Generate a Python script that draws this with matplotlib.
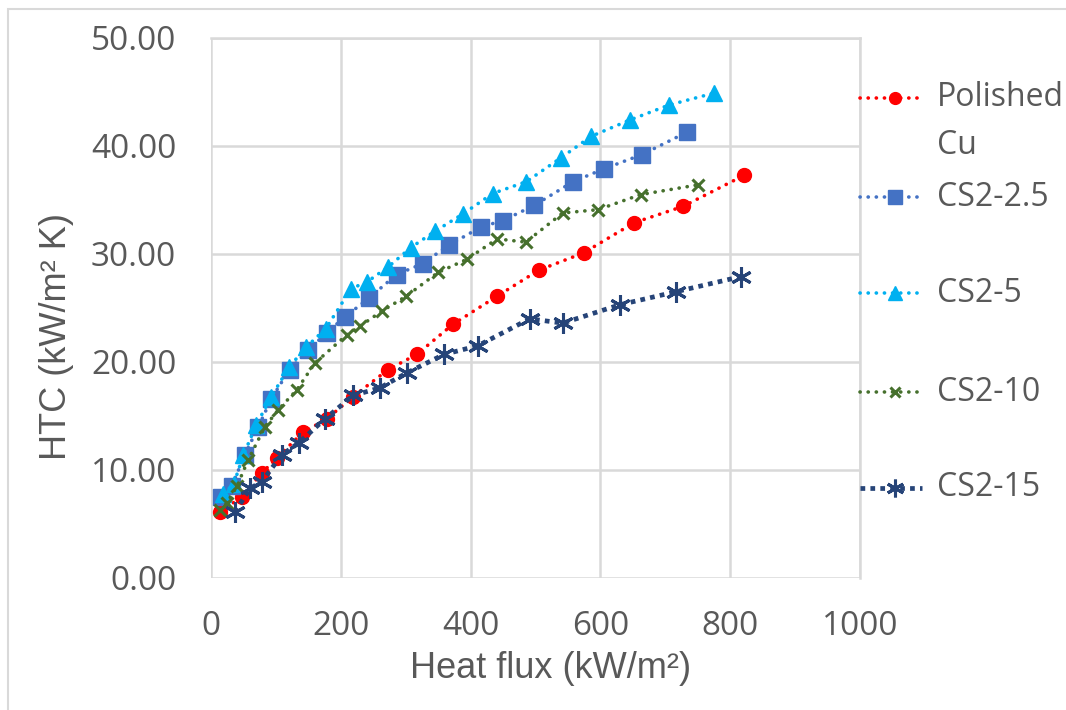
import matplotlib
matplotlib.use('Agg')
import matplotlib.pyplot as plt
from matplotlib.lines import Line2D
from matplotlib.patches import Rectangle

# data
cu_x = [14, 47, 78, 101, 142, 178, 219, 273, 317, 373, 441, 505, 574, 652, 727, 822]
cu_y = [6.1, 7.5, 9.7, 11.1, 13.5, 14.7, 16.8, 19.3, 20.7, 23.5, 26.1, 28.5, 30.1, 32.9, 34.4, 37.3]

cs25_x = [16, 32, 52, 73, 93, 121, 150, 178, 207, 243, 286, 326, 366, 416, 450, 498, 558, 606, 664, 734]
cs25_y = [7.5, 8.5, 11.4, 14.0, 16.6, 19.3, 21.1, 22.7, 24.2, 25.9, 28.1, 29.1, 30.8, 32.5, 33.1, 34.5,
          36.7, 37.9, 39.2, 41.3]

cs5_x = [19, 35, 50, 70, 93, 120, 147, 177, 216, 240, 273, 308, 345, 388, 434, 486, 539, 586, 645, 706, 775]
cs5_y = [7.8, 8.7, 11.4, 14.2, 16.8, 19.5, 21.4, 23.1, 26.8, 27.4, 28.8, 30.6, 32.1, 33.7, 35.6, 36.7,
         38.9, 40.9, 42.4, 43.8, 44.9]

cs10_x = [14, 24, 40, 57, 83, 104, 132, 160, 209, 229, 263, 301, 350, 394, 441, 485, 542, 596, 662, 750]
cs10_y = [6.3, 6.9, 8.5, 10.9, 14.0, 15.6, 17.4, 19.9, 22.5, 23.3, 24.7, 26.1, 28.3, 29.5, 31.4, 31.1,
          33.8, 34.1, 35.5, 36.4]

cs15_x = [37, 60, 78, 109, 135, 175, 219, 260, 302, 359, 411, 491, 542, 630, 716, 816]
cs15_y = [6.1, 8.3, 8.9, 11.4, 12.5, 14.7, 16.9, 17.6, 19.0, 20.7, 21.5, 24.0, 23.6, 25.3, 26.5, 27.9]

x_ticks = [0, 200, 400, 600, 800, 1000]
y_ticks = [0, 10, 20, 30, 40, 50]

text_color = '#595959'
grid_color = '#D9D9D9'
tick_font = 'Open Sans'
label_font = 'Liberation Sans'

W, H = 1066, 710
fig = plt.figure(figsize=(W / 100, H / 100), dpi=100)


def px(x, y):
    # pixel position -> figure fraction
    return x / W, 1 - y / H


# outer chart border (runs off the right/bottom edge in the reference)
fig.add_artist(Rectangle(px(8, 760), 1100 / W, 751 / H, transform=fig.transFigure,
                         fill=False, edgecolor=grid_color, linewidth=1.5))

ax = fig.add_axes([211 / W, 1 - 578 / H, (860 - 211) / W, (578 - 38) / H])

series = [
    # label, x, y, color, marker, size, line style
    ('Polished\nCu', cu_x, cu_y, '#FF0000', 'o', 10, 'round'),
    ('CS2-2.5', cs25_x, cs25_y, '#4472C4', 's', 12, 'round'),
    ('CS2-5', cs5_x, cs5_y, '#00B0F0', '^', 12, 'round'),
    ('CS2-10', cs10_x, cs10_y, '#46702D', 'x', 8, 'round'),
    ('CS2-15', cs15_x, cs15_y, '#264478', (6, 2, 0), 15, 'square'),
]

styles = {}
for label, xs, ys, color, marker, ms, kind in series:
    if kind == 'round':
        kw = dict(linestyle=(0, (0.05, 2.2)), linewidth=2.6, dash_capstyle='round')
    else:
        kw = dict(linestyle=(0, (1, 1.1)), linewidth=3.4, dash_capstyle='butt')
    mew = 2.2 if marker in ('x', (6, 2, 0)) else 1
    kw.update(color=color, marker=marker, markersize=ms, markerfacecolor=color,
              markeredgecolor=color, markeredgewidth=mew)
    styles[label] = kw
    ax.plot(xs, ys, zorder=3, **kw)

ax.set_xlim(0, 1000)
ax.set_ylim(0, 50)
ax.set_xticks(x_ticks)
ax.set_yticks(y_ticks)
ax.set_yticklabels([f'{v:.2f}' for v in y_ticks])
ax.tick_params(length=0, labelsize=24, labelcolor=text_color)
ax.tick_params(axis='x', pad=23)
ax.tick_params(axis='y', pad=25)
for t in ax.get_xticklabels() + ax.get_yticklabels():
    t.set_fontfamily(tick_font)
ax.grid(True, color=grid_color, linewidth=1.8, zorder=0)
ax.set_axisbelow(True)
for s in ax.spines.values():
    s.set_visible(False)
# top and right grid lines at 50 / 1000
ax.axhline(50, color=grid_color, linewidth=1.8, zorder=0, clip_on=False)
ax.axvline(1000, color=grid_color, linewidth=1.8, zorder=0, clip_on=False)

# axis titles
fig.text(*px(551, 669), 'Heat flux (kW/m\u00b2)', fontsize=26, color=text_color, family=label_font,
         ha='center', va='center')
fig.text(*px(56, 337), 'HTC (kW/m\u00b2 K)', fontsize=26, color=text_color, family=label_font,
         ha='center', va='center', rotation=90)

# legend drawn by hand so the handle sits on the first line of "Polished Cu"
legend_rows = [98, 197, 293, 392, 488]
for (label, *_), yy in zip(series, legend_rows):
    kw = dict(styles[label])
    line_kw = {k: v for k, v in kw.items() if not k.startswith('marker')}
    x0, y0 = px(860, yy)
    x1, _ = px(922, yy)
    xm, _ = px(895, yy)
    fig.add_artist(Line2D([x0, x1], [y0, y0], transform=fig.transFigure, **line_kw))
    fig.add_artist(Line2D([xm], [y0], transform=fig.transFigure, linestyle='none',
                          marker=kw['marker'], markersize=kw['markersize'] * 0.85,
                          color=kw['color'], markeredgewidth=kw['markeredgewidth']))
    tx, ty = px(937, yy)
    lines = label.split('\n')
    fig.text(tx, ty, lines[0], fontsize=23, color=text_color, family=tick_font, va='center')
    if len(lines) > 1:
        fig.text(tx, px(0, 145)[1], lines[1], fontsize=23, color=text_color,
                 family=tick_font, va='center')

fig.savefig('out.png', dpi=100)
